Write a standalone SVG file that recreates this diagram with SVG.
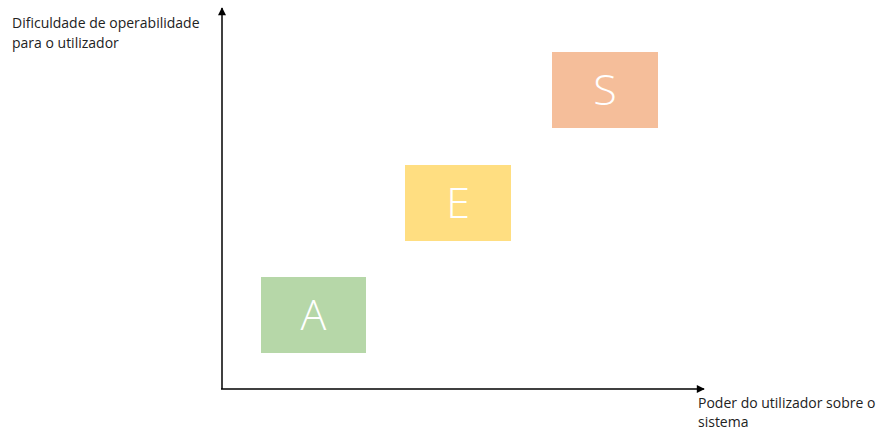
<svg xmlns="http://www.w3.org/2000/svg" width="883" height="430" viewBox="0 0 883 430">
<style>
.lbl{font-family:"Open Sans","Liberation Sans",sans-serif;font-size:14px;fill:#222;}
.box-t{font-family:"Open Sans","Liberation Sans",sans-serif;font-weight:300;font-size:43px;fill:#fff;text-anchor:middle;}
.axis{stroke:#000;stroke-width:1.5;fill:none;}
</style>
<defs>
<marker id="arrh" viewBox="0 0 10 10" refX="9" refY="5" markerWidth="9" markerHeight="8" orient="auto" markerUnits="userSpaceOnUse">
<path d="M0,0 L10,5 L0,10 z" fill="#000"/>
</marker>
</defs>
<rect width="883" height="430" fill="#fff"/>
<g id="connectors">
<path class="axis" d="M222,389 L222,8" marker-end="url(#arrh)"/>
<path class="axis" d="M221,389 L704,389" marker-end="url(#arrh)"/>
</g>
<g id="label-y">
<text class="lbl" x="12" y="28">Dificuldade de operabilidade</text>
<text class="lbl" x="12" y="48">para o utilizador</text>
</g>
<g id="label-x">
<text class="lbl" x="698" y="408">Poder do utilizador sobre o</text>
<text class="lbl" x="698" y="426.5">sistema</text>
</g>
<g id="node-A">
<rect x="261" y="277" width="105" height="76" fill="#b6d7a8"/>
<text class="box-t" x="313.5" y="330">A</text>
</g>
<g id="node-E">
<rect x="405" y="165" width="106" height="76" fill="#ffde81"/>
<text class="box-t" x="458" y="218">E</text>
</g>
<g id="node-S">
<rect x="552" y="52" width="106" height="76" fill="#f5be9a"/>
<text class="box-t" x="605" y="105">S</text>
</g>
</svg>
